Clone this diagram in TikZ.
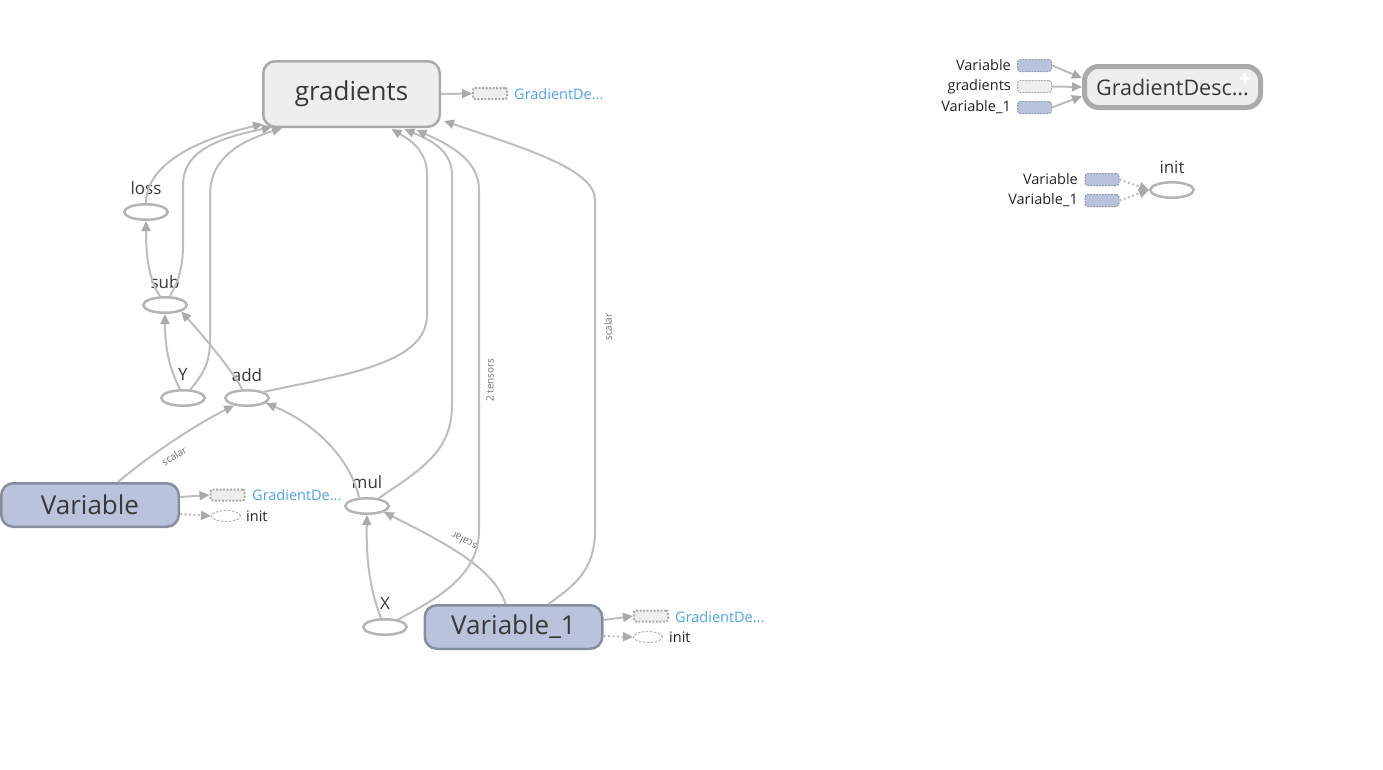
\documentclass[tikz,border=0pt]{standalone}
\usepackage{fontspec}
\setmainfont{Open Sans}
\usetikzlibrary{arrows.meta,shapes.geometric,calc}

\definecolor{edge}{HTML}{BDBDBD}
\definecolor{tipgray}{HTML}{AAAAAA}
\definecolor{opfill}{HTML}{EEEEEE}
\definecolor{opdraw}{HTML}{AAAAAA}
\definecolor{varfill}{HTML}{B9C4DC}
\definecolor{vardraw}{HTML}{868D9F}
\definecolor{stubdraw}{HTML}{8E97AE}
\definecolor{ink}{HTML}{383838}
\definecolor{smallink}{HTML}{222222}
\definecolor{link}{HTML}{4DA0F2}
\definecolor{ring}{HTML}{B4B4B4}
\definecolor{note}{HTML}{707070}

\tikzset{
  flow/.style={draw=edge, line width=2pt, -{Triangle[length=10pt,width=9pt,color=tipgray]}},
  dotflow/.style={flow, dash pattern=on 2pt off 2.5pt},
  opbox/.style={draw=opdraw, fill=opfill, line width=2.5pt, rounded corners=12pt,
    minimum width=176.5pt, minimum height=65.5pt, inner sep=0pt,
    font=\fontsize{26}{30}\selectfont, text=ink},
  varbox/.style={opbox, draw=vardraw, fill=varfill, minimum width=177.5pt, minimum height=43.5pt},
  groupbox/.style={opbox, line width=5pt, rounded corners=14pt, minimum width=176pt,
    minimum height=41pt, font=\fontsize{21.5}{26}\selectfont},
  opnode/.style={ellipse, draw=ring, fill=white, line width=2.5pt, minimum width=43.5pt,
    minimum height=15.5pt, inner sep=0pt},
  oplabel/.style={text=ink, font=\fontsize{17}{20}\selectfont, inner sep=0pt},
  stub/.style={draw=opdraw, fill=opfill, line width=2pt, dash pattern=on 2pt off 1.5pt,
    rounded corners=2pt, minimum width=34pt, minimum height=11pt, inner sep=0pt},
  varstub/.style={draw=stubdraw, fill=varfill, line width=1pt, dash pattern=on 2pt off 1pt,
    rounded corners=3pt, minimum width=34pt, minimum height=12pt, inner sep=0pt},
  greystub/.style={varstub, draw=opdraw, fill=opfill},
  ghostop/.style={ellipse, draw=ring, line width=1pt, dash pattern=on 2.5pt off 1.5pt,
    minimum width=29pt, minimum height=11pt, inner sep=0pt},
  linklabel/.style={text=link, font=\fontsize{14.5}{17}\selectfont, inner sep=0pt, anchor=west},
  stublabel/.style={text=smallink, font=\fontsize{14.5}{17}\selectfont, inner sep=0pt},
  edgelabel/.style={text=note, font=\fontsize{10}{12}\selectfont, inner sep=0pt},
}

\begin{document}
\begin{tikzpicture}[x=1pt,y=-1pt]
\useasboundingbox (0,0) rectangle (1383,769);

% ---- main graph nodes ----
\node[opbox]  (gradients)  at (351.5,94) {gradients};
\node[varbox] (Variable)   at (90,505)   {Variable};
\node[varbox] (Variable_1) at (513.5,627) {Variable\_1};

\node[opnode] (loss) at (146,212) {};
\node[opnode] (sub)  at (165,305) {};
\node[opnode] (Y)    at (183,398) {};
\node[opnode] (add)  at (247,398) {};
\node[opnode] (mul)  at (367,506) {};
\node[opnode] (X)    at (385,627) {};

\node[oplabel] (lossl) at (146,188) {loss};
\node[oplabel] (subl)  at (165,282) {sub};
\node[oplabel] (Yl)    at (183,374) {Y};
\node[oplabel] (addl)  at (247,375) {add};
\node[oplabel] (mull)  at (367,482) {mul};
\node[oplabel] (Xl)    at (385,603) {X};

% ---- outgoing stubs ----
\node[stub] (gstub) at (490,93.5) {};
\node[linklabel] (gstubl) at (514,94) {GradientDe...};
\draw[flow] (gradients.east) -- (gstub.west);

\node[stub] (vgstub) at (227.5,495) {};
\node[linklabel] (vgstubl) at (252,495) {GradientDe...};
\node[ghostop] (vinit) at (226,516) {};
\node[stublabel, anchor=west] (vinitl) at (246,516) {init};
\draw[flow] ($(Variable.east)+(0,-8)$) -- (vgstub.west);
\draw[dotflow] ($(Variable.east)+(0,9)$) -- (vinit.west);

\node[stub] (v1gstub) at (651,616) {};
\node[linklabel] (v1gstubl) at (675,617) {GradientDe...};
\node[ghostop] (v1init) at (648,637) {};
\node[stublabel, anchor=west] (v1initl) at (669,637) {init};
\draw[flow] ($(Variable_1.east)+(0,-7)$) -- (v1gstub.west);
\draw[dotflow] ($(Variable_1.east)+(0,9)$) -- (v1init.west);

% ---- edges into gradients ----
\draw[flow] (loss.north) .. controls (146,165) and (195,140) .. ($(gradients.south west)+(1,-4)$);
\draw[flow] ($(sub.north)+(5,0)$) .. controls (178,282) and (183,268) .. (183,245)
  -- (183,185) .. controls (183,148) and (225,137) .. ($(gradients.south west)+(10,-1)$);
\draw[flow] ($(Y.north)+(7,1)$) .. controls (202,375) and (210,365) .. (210,340)
  -- (210,195) .. controls (210,155) and (245,140) .. ($(gradients.south west)+(20,0)$);
\draw[flow] (add.20) .. controls (340,375) and (427,365) .. (427,315)
  -- (427,175) .. controls (427,150) and (410,140) .. ($(gradients.south)+(40,1)$);
\draw[flow] ($(mul.north)+(12,1)$) .. controls (420,470) and (452,452) .. (452,405)
  -- (452,175) .. controls (452,150) and (430,140) .. ($(gradients.south)+(53,1)$);
\draw[flow] (X.30) .. controls (440,597) and (479,575) .. (479,530)
  -- (479,190) .. controls (479,160) and (450,145) .. ($(gradients.south)+(65,2)$);
\draw[flow] ($(Variable_1.north)+(35,0)$) .. controls (575,585) and (595,570) .. (595,530)
  -- (595,200) .. controls (595,170) and (530,150) .. ($(gradients.south east)+(3,-7)$);

% ---- forward edges ----
\draw[flow] ($(sub.north)+(-5,0)$) .. controls (150,282) and (146,260) .. (loss.south);
\draw[flow] ($(Y.north)+(-3,0)$) .. controls (170,370) and (165,350) .. (sub.south);
\draw[flow] ($(add.north)+(-5,0)$) .. controls (232,370) and (205,338) .. (sub.south east);
\draw[flow] ($(mul.north)+(-8,0)$) .. controls (350,460) and (318,425) .. (add.-15);
\draw[flow] ($(Variable.north)+(28,0)$) .. controls (150,455) and (195,425) .. (add.-150);
\draw[flow] ($(X.north)+(-4,0)$) .. controls (370,590) and (366,560) .. (mul.south);
\draw[flow] ($(Variable_1.north)+(-8,0)$) .. controls (495,570) and (450,545) .. (mul.-20);

% ---- edge labels ----
\node[edgelabel, rotate=32.6] (scal1) at (174,456) {scalar};
\node[edgelabel, rotate=152]  (scal2) at (464,541) {scalar};
\node[edgelabel, rotate=90]   (scal3) at (608,327) {scalar};
\node[edgelabel, rotate=90]   (tens)  at (490,380) {2 tensors};

% ---- optimizer group ----
\node[groupbox] (gd) at (1172.5,87) {GradientDesc...};
\node[text=white, font=\fontsize{22}{22}\selectfont\bfseries, inner sep=0pt] (gdplus) at (1245,80) {+};

\node[varstub]  (trv)  at (1034.5,65.5)  {};
\node[greystub] (trg)  at (1034.5,86.5)  {};
\node[varstub]  (trv1) at (1034.5,107.5) {};
\node[stublabel, anchor=east] (trvl)  at (1011,65.5)  {Variable};
\node[stublabel, anchor=east] (trgl)  at (1011,86.5)  {gradients};
\node[stublabel, anchor=east] (trv1l) at (1011,107.5) {Variable\_1};
\draw[flow] (trv.east)  -- ($(gd.west)+(0,-9)$);
\draw[flow] (trg.east)  -- (gd.west);
\draw[flow] (trv1.east) -- ($(gd.west)+(0,9)$);

% ---- init group ----
\node[opnode] (init) at (1172,190) {};
\node[oplabel] (initl) at (1172,167) {init};
\node[varstub] (iv)  at (1102,179.5) {};
\node[varstub] (iv1) at (1102,200.5) {};
\node[stublabel, anchor=east] (ivl)  at (1078,179.5) {Variable};
\node[stublabel, anchor=east] (iv1l) at (1078,200.5) {Variable\_1};
\draw[dotflow] (iv.east)  -- (init.west);
\draw[dotflow] (iv1.east) -- (init.west);
\end{tikzpicture}
\end{document}
